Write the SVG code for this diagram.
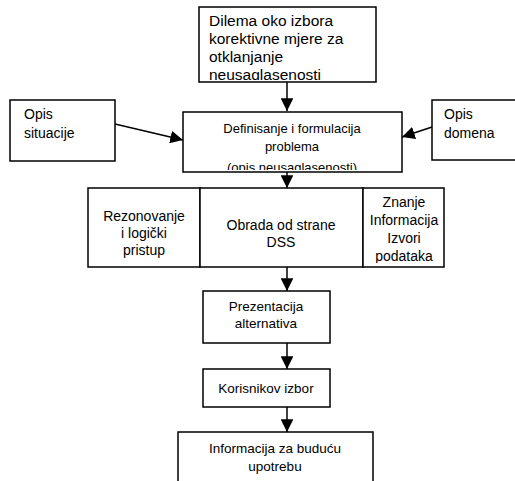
<svg xmlns="http://www.w3.org/2000/svg" width="515" height="481" viewBox="0 0 515 481">
<style>
.box{fill:#fff;stroke:#000;stroke-width:1.5}
.t{font-family:"Liberation Sans",Arial,sans-serif;font-size:14px;fill:#000}
.big{font-size:15.5px}
.s{font-size:13px}
.m{font-size:13.5px}
.c{text-anchor:middle}
.ln{stroke:#000;stroke-width:1.5;fill:none}
</style>
<defs>
<marker id="ah" viewBox="0 0 10 10" refX="10" refY="5" markerWidth="8.5" markerHeight="8.5" markerUnits="strokeWidth" orient="auto">
<path d="M0,0 L10,5 L0,10 Z" fill="#000"/>
</marker>
<clipPath id="c1"><rect x="199" y="7" width="177" height="73"/></clipPath>
<clipPath id="c2"><rect x="183" y="112" width="219" height="58"/></clipPath>
<clipPath id="c3"><rect x="363" y="188" width="81" height="75"/></clipPath>
</defs>
<g id="connectors">
<line class="ln" x1="287" y1="82" x2="287" y2="111" marker-end="url(#ah)"/>
<line class="ln" x1="115" y1="124" x2="183" y2="140" marker-end="url(#ah)"/>
<line class="ln" x1="432" y1="127" x2="402" y2="137" marker-end="url(#ah)"/>
<line class="ln" x1="287" y1="172" x2="287" y2="188" marker-end="url(#ah)"/>
<line class="ln" x1="287" y1="267" x2="287" y2="291" marker-end="url(#ah)"/>
<line class="ln" x1="287" y1="343" x2="287" y2="369" marker-end="url(#ah)"/>
<line class="ln" x1="287" y1="407" x2="287" y2="432" marker-end="url(#ah)"/>
</g>
<g id="dilema">
<rect class="box" x="199" y="7" width="177" height="75"/>
<g clip-path="url(#c1)">
<text class="t big" x="209" y="26">Dilema oko izbora</text>
<text class="t big" x="209" y="44">korektivne mjere za</text>
<text class="t big" x="209" y="62">otklanjanje</text>
<text class="t big" x="209" y="80">neusaglasenosti</text>
</g>
</g>
<g id="opis-situacije">
<rect class="box" x="10" y="100" width="105" height="61"/>
<text class="t" x="24" y="119">Opis</text>
<text class="t" x="24" y="138">situacije</text>
</g>
<g id="definisanje">
<rect class="box" x="183" y="112" width="219" height="60"/>
<g clip-path="url(#c2)">
<text class="t s c" x="292" y="133">Definisanje i formulacija</text>
<text class="t s c" x="292" y="151">problema</text>
<text class="t s c" x="292" y="172">(opis neusaglasenosti)</text>
</g>
</g>
<g id="opis-domena">
<rect class="box" x="432" y="100" width="90" height="60"/>
<text class="t" x="444" y="119">Opis</text>
<text class="t" x="444" y="138">domena</text>
</g>
<g id="rezonovanje">
<rect class="box" x="88" y="188" width="112" height="79"/>
<text class="t c" x="144" y="221">Rezonovanje</text>
<text class="t c" x="144" y="238">i logički</text>
<text class="t c" x="144" y="255">pristup</text>
</g>
<g id="obrada">
<rect class="box" x="200" y="188" width="163" height="79"/>
<text class="t c" x="281" y="230">Obrada od strane</text>
<text class="t c" x="281" y="247">DSS</text>
</g>
<g id="znanje">
<rect class="box" x="363" y="188" width="81" height="79"/>
<g clip-path="url(#c3)">
<text class="t c" x="404" y="207">Znanje</text>
<text class="t c" x="404" y="225">Informacija</text>
<text class="t c" x="404" y="243">Izvori</text>
<text class="t c" x="404" y="261">podataka</text>
</g>
</g>
<g id="prezentacija">
<rect class="box" x="203" y="291" width="127" height="52"/>
<text class="t m c" x="266" y="311">Prezentacija</text>
<text class="t m c" x="266" y="328">alternativa</text>
</g>
<g id="korisnikov">
<rect class="box" x="203" y="369" width="127" height="38"/>
<text class="t m c" x="266" y="393">Korisnikov izbor</text>
</g>
<g id="informacija">
<rect class="box" x="178" y="432" width="195" height="60"/>
<text class="t m c" x="275" y="453">Informacija za buduću</text>
<text class="t m c" x="275" y="471">upotrebu</text>
</g>
</svg>
